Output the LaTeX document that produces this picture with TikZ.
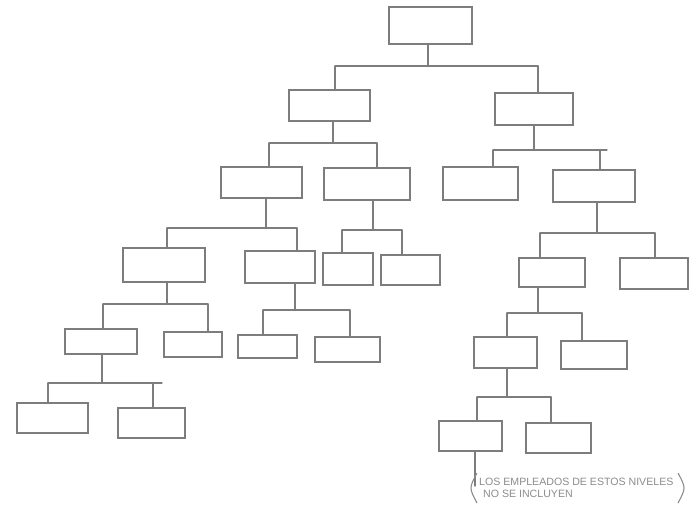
\documentclass[tikz,border=0pt]{standalone}
\usepackage{fontspec}
\setmainfont{Liberation Sans}
\definecolor{ink}{RGB}{125,125,125}
\definecolor{faint}{RGB}{140,140,140}
\begin{document}
\begin{tikzpicture}[x=1pt,y=-1pt,
  box/.style={draw=ink,line width=1.3pt,inner sep=0pt,outer sep=0pt},
  link/.style={draw=ink,line width=1.3pt,line cap=round},
  note/.style={text=faint,font=\fontsize{10.6}{11.5}\selectfont,inner sep=0pt,align=left}]
\useasboundingbox[fill=white] (0,0) rectangle (692,514);
% boxes: \orgbox{name}{x1}{y1}{x2}{y2}
\newcommand\orgbox[5]{\node[box,minimum width={#4-#2},minimum height={#5-#3}] (#1) at ({(#2+#4)/2},{(#3+#5)/2}) {};}
\orgbox{root}{389}{7}{472}{44}
\orgbox{a1}{289}{90}{370}{121}
\orgbox{b1}{495}{93}{573}{125}
\orgbox{A}{221}{167}{302}{198}
\orgbox{B}{324}{168}{410}{200}
\orgbox{C}{443}{167}{518}{200}
\orgbox{D}{553}{170}{635}{202}
\orgbox{E}{123}{248}{205}{282}
\orgbox{F}{245}{251}{315}{283}
\orgbox{G}{323}{253}{373}{285}
\orgbox{H}{381}{255}{440}{285}
\orgbox{I}{519}{258}{585}{287}
\orgbox{J}{620}{258}{688}{289}
\orgbox{K}{65}{329}{137}{354}
\orgbox{L}{164}{332}{222}{357}
\orgbox{M}{238}{335}{297}{358}
\orgbox{N}{315}{337}{380}{362}
\orgbox{O}{17}{403}{88}{433}
\orgbox{P}{118}{408}{185}{438}
\orgbox{Q}{474}{337}{537}{368}
\orgbox{R}{561}{341}{627}{369}
\orgbox{S}{439}{421}{502}{451}
\orgbox{T}{526}{423}{591}{453}
% family connectors: \famlink{parent}{xv}{ybar}{xL}{xR}{childL}{childR}
\newcommand\famlink[7]{%
  \coordinate (#1-v) at (#2,#3);
  \coordinate (#1-l) at (#4,#3);
  \coordinate (#1-r) at (#5,#3);
  \draw[link] (#1-v |- #1.south) -- (#1-v);
  \draw[link] (#1-l) -- (#1-r);
  \draw[link] (#1-l) -- (#1-l |- #6.north);
  \draw[link] (#1-r) -- (#1-r |- #7.north);}
\famlink{root}{428}{66}{335}{538}{a1}{b1}
\famlink{a1}{333}{143}{269}{377}{A}{B}
\famlink{b1}{534}{150}{493}{600}{C}{D}
\famlink{A}{266}{228}{167}{297}{E}{F}
\famlink{B}{373}{230}{342}{402}{G}{H}
\famlink{D}{597}{233}{540}{655}{I}{J}
\famlink{E}{167}{304}{103}{208}{K}{L}
\famlink{F}{295}{310}{263}{350}{M}{N}
\famlink{K}{102}{383}{48}{153}{O}{P}
\famlink{I}{538}{313}{507}{582}{Q}{R}
\famlink{Q}{507}{397}{477}{551}{S}{T}
% small overhangs of the bars
\draw[link] (b1-r) -- ++(7,0);
\draw[link] (K-r) -- ++(9,0);
% note under S
\coordinate (S-v) at (475,486);
\draw[link] (S-v |- S.south) -- (S-v);
\node[note,anchor=west] (txt) at (479,488) {LOS EMPLEADOS DE ESTOS NIVELES\\\hspace*{4pt}NO SE INCLUYEN};
\coordinate (pl) at (474,488);
\coordinate (pr) at (681,488);
\draw[draw=faint,line width=1.1pt] ([xshift=3pt,yshift=15pt]pl) .. controls ([xshift=-5pt]pl) .. ([xshift=3pt,yshift=-15pt]pl);
\draw[draw=faint,line width=1.1pt] ([xshift=-3pt,yshift=15pt]pr) .. controls ([xshift=5pt]pr) .. ([xshift=-3pt,yshift=-15pt]pr);
\end{tikzpicture}
\end{document}
